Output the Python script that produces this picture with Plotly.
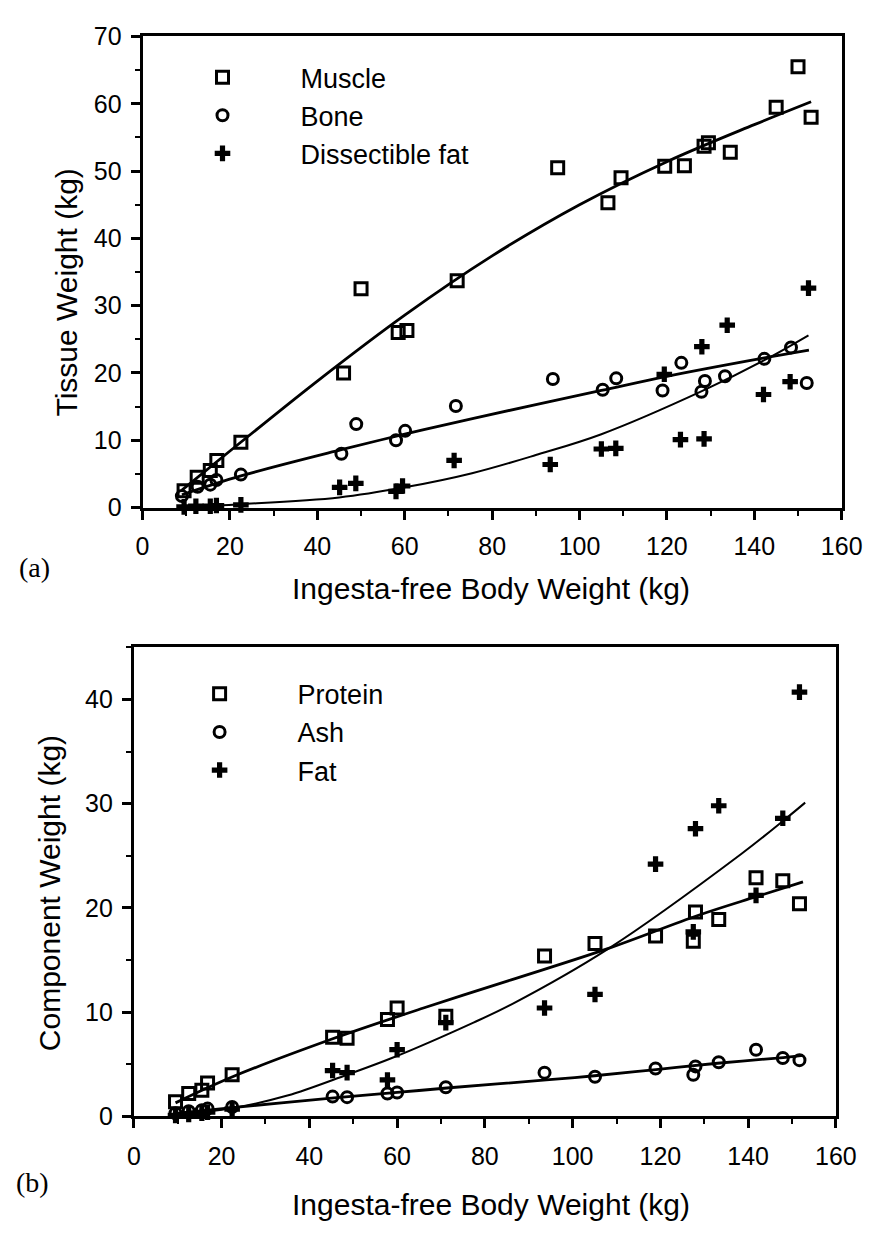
import plotly.graph_objects as go

# ---------------- Panel (a): tissue weights ----------------
muscle_bw = [9.5, 12.5, 15.5, 17, 22.5, 46, 50, 58.5, 60.5, 72, 95, 106.5, 109.5,
             119.5, 124, 128.5, 129.5, 134.5, 145, 150, 153]
muscle_kg = [2.5, 4.5, 5.5, 7.0, 9.7, 20.0, 32.5, 26.0, 26.3, 33.7, 50.5, 45.3, 49.0,
             50.7, 50.8, 53.7, 54.2, 52.8, 59.5, 65.5, 58.0]

bone_bw = [9, 12.6, 15.5, 16.9, 22.5, 45.5, 48.9, 58, 60.1, 71.7, 93.9, 105.3, 108.4,
           119, 123.3, 127.9, 128.7, 133.3, 142.3, 148.4, 152]
bone_kg = [1.7, 3.1, 3.4, 4.1, 4.9, 8.0, 12.4, 10.0, 11.4, 15.1, 19.1, 17.5, 19.2,
           17.4, 21.5, 17.2, 18.8, 19.5, 22.1, 23.8, 18.5]

dfat_bw = [9.5, 12.2, 15.5, 16.9, 22.5, 45.1, 48.8, 58, 59.5, 71.3, 93.3, 105, 108.3,
           119.4, 123.1, 128.5, 128, 133.8, 142.1, 148.2, 152.4]
dfat_kg = [0.1, 0.2, 0.2, 0.3, 0.4, 3.0, 3.6, 2.4, 3.2, 7.0, 6.4, 8.7, 8.8,
           19.8, 10.1, 10.2, 23.9, 27.1, 16.8, 18.7, 32.6]

# fitted curves (panel a)
muscle_fit_x = [9, 20, 40, 60, 80, 100, 120, 140, 153]
muscle_fit_y = [2.6, 8.4, 18.8, 28.6, 37.4, 45.0, 51.4, 56.9, 60.3]
bone_fit_x = [9, 22.5, 45.5, 60, 76, 105, 120, 142, 152.5]
bone_fit_y = [1.9, 4.7, 8.6, 10.9, 13.3, 17.4, 19.5, 22.2, 23.4]
dfat_fit_x = [9, 22.5, 45, 60, 75.4, 90, 105, 128, 142.3, 152.4]
dfat_fit_y = [0.1, 0.5, 1.5, 3.0, 5.1, 7.8, 10.9, 17.3, 21.9, 25.6]

# ---------------- Panel (b): chemical components ----------------
comp_bw = [9.5, 12.5, 15.5, 16.8, 22.4, 45.3, 48.6, 57.8, 60, 71.1, 93.6, 105.1,
           118.9, 127.5, 128, 133.3, 141.8, 147.9, 151.7]
protein_kg = [1.4, 2.2, 2.5, 3.2, 4.0, 7.6, 7.5, 9.3, 10.4, 9.6, 15.4, 16.6,
              17.3, 16.8, 19.6, 18.9, 22.9, 22.6, 20.4]
ash_kg = [0.3, 0.5, 0.6, 0.75, 0.9, 1.9, 1.85, 2.2, 2.3, 2.8, 4.2, 3.8,
          4.6, 4.0, 4.8, 5.2, 6.4, 5.6, 5.4]
fat_kg = [0.1, 0.2, 0.3, 0.4, 0.7, 4.4, 4.2, 3.5, 6.4, 9.0, 10.4, 11.7,
          24.2, 17.7, 27.6, 29.8, 21.2, 28.6, 40.7]

# fitted curves (panel b)
protein_fit_x = [9.5, 22.5, 45, 66, 86, 108, 128.7, 142, 152.5]
protein_fit_y = [1.3, 3.8, 7.4, 10.4, 13.1, 16.1, 19.3, 21.1, 22.5]
ash_fit_x = [9.5, 22.5, 45, 60, 72, 94, 105, 119, 133, 148, 152.5]
ash_fit_y = [0.3, 0.85, 1.75, 2.3, 2.75, 3.5, 3.9, 4.5, 5.1, 5.65, 5.85]
fat_fit_x = [9.5, 22.5, 35, 48.6, 58.8, 77.4, 86.3, 108, 138.5, 148.7, 153]
fat_fit_y = [0.1, 0.8, 2.0, 4.0, 5.6, 9.0, 10.8, 16.05, 25.2, 28.6, 30.1]

W, H = 884, 1235
FONT = "Liberation Sans, Arial, Helvetica, sans-serif"


def fx(p):
    return p / W


def fy(p):
    return 1 - p / H


square = dict(symbol="square-open", size=12, color="black", line=dict(width=3, color="black"))
circle = dict(symbol="circle-open", size=11, color="black", line=dict(width=3, color="black"))
plus = dict(symbol="cross", size=13, color="black", line=dict(width=0))

fig = go.Figure()


def pts(x, y, name, marker, xa, ya, legend):
    fig.add_trace(go.Scatter(x=x, y=y, mode="markers", name=name, marker=marker,
                             xaxis=xa, yaxis=ya, legend=legend, cliponaxis=False))


def fit(x, y, xa, ya, width=2.8):
    fig.add_trace(go.Scatter(x=x, y=y, mode="lines", showlegend=False, hoverinfo="skip",
                             line=dict(shape="spline", smoothing=1.0, width=width, color="black"),
                             xaxis=xa, yaxis=ya, cliponaxis=False))


# panel (a)
fit(muscle_fit_x, muscle_fit_y, "x", "y")
fit(bone_fit_x, bone_fit_y, "x", "y")
fit(dfat_fit_x, dfat_fit_y, "x", "y", width=2.0)
pts(muscle_bw, muscle_kg, "Muscle", square, "x", "y", "legend")
pts(bone_bw, bone_kg, "Bone", circle, "x", "y", "legend")
pts(dfat_bw, dfat_kg, "Dissectible fat", plus, "x", "y", "legend")

# panel (b)
fit(protein_fit_x, protein_fit_y, "x2", "y2")
fit(ash_fit_x, ash_fit_y, "x2", "y2")
fit(fat_fit_x, fat_fit_y, "x2", "y2", width=2.0)
pts(comp_bw, protein_kg, "Protein", square, "x2", "y2", "legend2")
pts(comp_bw, ash_kg, "Ash", circle, "x2", "y2", "legend2")
pts(comp_bw, fat_kg, "Fat", plus, "x2", "y2", "legend2")

axis_common = dict(showline=True, linewidth=3, linecolor="black", mirror=True,
                   ticks="outside", ticklen=9, tickwidth=2.5, tickcolor="black",
                   showgrid=False, zeroline=False,
                   tickfont=dict(family=FONT, size=25, color="black"))
minor_x = dict(dtick=10, ticks="outside", ticklen=5, tickwidth=2, tickcolor="black")
minor_y = dict(dtick=5, ticks="outside", ticklen=5, tickwidth=2, tickcolor="black")
legend_font = dict(family=FONT, size=27, color="black")

fig.update_layout(
    width=W, height=H, autosize=False,
    margin=dict(l=0, r=0, t=0, b=0),
    paper_bgcolor="white", plot_bgcolor="white",
    font=dict(family=FONT, color="black"),
    xaxis=dict(domain=[fx(140), fx(862)], range=[0, 160], dtick=20, anchor="y",
               minor=minor_x, ticklabelstandoff=5, **axis_common),
    yaxis=dict(domain=[fy(505), fy(23)], range=[0, 70], dtick=10, anchor="x",
               minor=minor_y, ticklabelstandoff=4, **axis_common),
    xaxis2=dict(domain=[fx(131), fx(856)], range=[0, 160], dtick=20, anchor="y2",
                minor=minor_x, ticklabelstandoff=7, **axis_common),
    yaxis2=dict(domain=[fy(1128), fy(648)], range=[0, 45], tickvals=[0, 10, 20, 30, 40],
                anchor="x2", minor=minor_y, ticklabelstandoff=4, **axis_common),
    legend=dict(x=fx(142), y=fy(40), xanchor="left", yanchor="top", itemwidth=146,
                bgcolor="rgba(0,0,0,0)", font=legend_font, tracegroupgap=0),
    legend2=dict(x=fx(139), y=fy(671), xanchor="left", yanchor="top", itemwidth=146,
                 bgcolor="rgba(0,0,0,0)", font=legend_font, tracegroupgap=0),
)

title_font = dict(family=FONT, size=30, color="black")
label_font = dict(family="Liberation Serif, Times New Roman, serif", size=28, color="black")
annotations = [
    dict(text="Ingesta-free Body Weight (kg)", x=fx(500), y=fy(588), font=title_font),
    dict(text="Tissue Weight (kg)", x=fx(62), y=fy(285), font=title_font, textangle=-90),
    dict(text="(a)", x=fx(28), y=fy(566), font=label_font),
    dict(text="Ingesta-free Body Weight (kg)", x=fx(500), y=fy(1218), font=title_font),
    dict(text="Component Weight (kg)", x=fx(44), y=fy(900), font=title_font, textangle=-90),
    dict(text="(b)", x=fx(26), y=fy(1196), font=label_font),
]
for a in annotations:
    fig.add_annotation(xref="paper", yref="paper", showarrow=False,
                       xanchor="center", yanchor="middle", **a)

fig.write_html("out.html")
